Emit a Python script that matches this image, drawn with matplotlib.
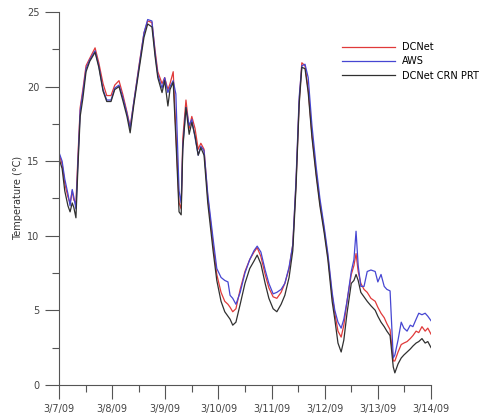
import matplotlib
matplotlib.use("Agg")
import matplotlib.pyplot as plt
from matplotlib.ticker import MultipleLocator

# time in days since 3/7/09 00:00
days = [0.00, 0.06, 0.11, 0.17, 0.21, 0.25, 0.28, 0.32, 0.36, 0.40,
        0.45, 0.51, 0.58, 0.68, 0.75, 0.83, 0.90, 0.98, 1.05, 1.13,
        1.20, 1.28, 1.34, 1.41, 1.51, 1.60, 1.67, 1.75, 1.81, 1.86,
        1.94, 1.99, 2.05, 2.09, 2.15, 2.20, 2.26, 2.30, 2.33, 2.39,
        2.45, 2.50, 2.56, 2.62, 2.67, 2.73, 2.80, 2.90, 2.97, 3.05,
        3.12, 3.18, 3.22, 3.27, 3.33, 3.41, 3.50, 3.59, 3.67, 3.73,
        3.80, 3.88, 3.95, 4.03, 4.10, 4.18, 4.25, 4.33, 4.40, 4.46,
        4.52, 4.57, 4.63, 4.69, 4.76, 4.84, 4.91, 4.99, 5.06, 5.14,
        5.19, 5.25, 5.31, 5.36, 5.42, 5.50, 5.55, 5.59, 5.63, 5.68,
        5.74, 5.80, 5.87, 5.95, 6.00, 6.06, 6.12, 6.17, 6.23, 6.29,
        6.32, 6.38, 6.44, 6.49, 6.55, 6.61, 6.66, 6.72, 6.77, 6.83,
        6.89, 6.94, 7.00]

dcnet = [15.5, 14.8, 13.5, 12.6, 12.2, 13.0, 12.4, 12.2, 15.5, 18.6,
         19.8, 21.4, 21.9, 22.6, 21.6, 20.2, 19.4, 19.4, 20.1, 20.4,
         19.5, 18.3, 17.3, 19.0, 21.5, 23.6, 24.4, 24.3, 22.4, 21.0,
         20.2, 20.6, 19.8, 20.2, 21.0, 17.0, 12.2, 11.8, 16.5, 19.1,
         17.2, 18.0, 17.2, 15.8, 16.2, 15.8, 12.6, 9.4, 7.4, 6.2,
         5.6, 5.4, 5.2, 4.9, 5.1, 6.4, 7.6, 8.4, 8.9, 9.2,
         8.6, 7.4, 6.5, 5.9, 5.8, 6.2, 6.8, 7.8, 9.4, 13.5,
         19.0, 21.6, 21.4, 19.8, 16.8, 14.2, 12.2, 10.4, 8.6, 6.0,
         4.8, 3.6, 3.2, 4.0, 5.6, 7.4, 8.0, 8.8, 7.6, 6.8,
         6.4, 6.2, 5.8, 5.6, 5.2, 4.8, 4.5, 4.1, 3.7, 1.6,
         1.6, 2.2, 2.7, 2.8, 2.9, 3.1, 3.3, 3.6, 3.5, 3.9,
         3.6, 3.8, 3.4]

aws = [15.6, 15.0, 13.8, 12.8, 12.0, 13.1, 12.6, 11.8, 15.2, 18.4,
       19.6, 21.2, 21.8, 22.4, 21.4, 19.8, 19.1, 19.1, 19.9, 20.1,
       19.3, 18.2, 17.2, 19.0, 21.4, 23.6, 24.5, 24.4, 22.2, 20.8,
       19.9, 20.6, 19.6, 20.0, 20.4, 19.5, 13.0, 12.2, 16.0, 18.6,
       17.4, 17.8, 16.6, 15.4, 16.0, 15.7, 12.8, 9.8, 7.8, 7.2,
       7.0, 6.9, 6.0, 5.8, 5.4, 6.2, 7.5, 8.4, 9.0, 9.3,
       8.9, 7.7, 6.8, 6.1, 6.2, 6.4, 6.8, 7.9, 9.4, 13.7,
       19.3, 21.4, 21.5, 20.6, 17.4, 14.6, 12.5, 10.6, 8.8, 6.2,
       5.0, 4.2, 3.8, 4.4, 5.6, 7.6, 8.4, 10.3, 8.0, 6.6,
       6.6, 7.6, 7.7, 7.6, 6.9, 7.4, 6.6, 6.4, 6.3, 1.8,
       2.0, 3.0, 4.2, 3.8, 3.6, 4.0, 3.9, 4.4, 4.8, 4.7,
       4.8, 4.6, 4.3]

crn_prt = [15.2, 14.5, 13.0, 12.0, 11.6, 12.2, 11.9, 11.2, 14.8, 18.0,
           19.2, 21.0, 21.7, 22.3, 21.3, 19.7, 19.0, 19.0, 19.8, 20.0,
           19.1, 18.0, 16.9, 18.8, 21.2, 23.3, 24.2, 24.0, 22.0, 20.6,
           19.6, 20.4, 18.7, 19.8, 20.3, 16.5, 11.6, 11.4, 15.8, 18.6,
           16.8, 17.6, 16.7, 15.4, 15.9, 15.4, 12.2, 9.0, 7.0, 5.6,
           4.9, 4.6, 4.4, 4.0, 4.2, 5.4, 6.8, 7.8, 8.3, 8.7,
           8.1, 6.8, 5.8, 5.1, 4.9, 5.4, 6.0, 7.2, 9.0, 13.2,
           18.8, 21.3, 21.2, 19.6, 16.6, 14.0, 12.0, 10.2, 8.4, 5.6,
           4.4, 2.8, 2.2, 3.0, 4.8, 6.8, 7.0, 7.4, 7.0, 6.2,
           5.9, 5.6, 5.3, 5.0, 4.6, 4.2, 3.9, 3.6, 3.3, 1.2,
           0.8, 1.4, 1.8, 2.0, 2.2, 2.4, 2.6, 2.8, 2.9, 3.1,
           2.8, 2.9, 2.5]

date_labels = ["3/7/09", "3/8/09", "3/9/09", "3/10/09", "3/11/09",
               "3/12/09", "3/13/09", "3/14/09"]

fig = plt.figure(figsize=(4.87, 4.16), dpi=100)
ax = fig.add_axes([0.121, 0.075, 0.764, 0.896])

ax.plot(days, dcnet, color="#e03a3a", lw=0.9, label="DCNet")
ax.plot(days, aws, color="#4646d2", lw=0.9, label="AWS")
ax.plot(days, crn_prt, color="#303030", lw=0.9, label="DCNet CRN PRT")

ax.set_xlim(0, 7)
ax.set_ylim(0, 25)
ax.set_xticks(range(len(date_labels)))
ax.set_xticklabels(date_labels)
ax.xaxis.set_minor_locator(MultipleLocator(0.5))
ax.yaxis.set_major_locator(MultipleLocator(5))
ax.yaxis.set_minor_locator(MultipleLocator(2.5))

for s in ["top", "right"]:
    ax.spines[s].set_visible(False)
for s in ["left", "bottom"]:
    ax.spines[s].set_color("#555555")
    ax.spines[s].set_linewidth(0.8)

ax.tick_params(which="major", length=10, width=0.8, color="#555555",
               labelsize=7, labelcolor="#444444", pad=4)
ax.tick_params(which="minor", length=5, width=0.8, color="#555555")
ax.set_ylabel("Temperature (°C)", fontsize=7, color="#333333", labelpad=3)

ax.legend(loc="upper left", bbox_to_anchor=(0.75, 0.93), frameon=False,
          fontsize=7, handlelength=5.5, labelspacing=0.45,
          handletextpad=0.7, borderaxespad=0)

fig.savefig("out.png", dpi=100)
